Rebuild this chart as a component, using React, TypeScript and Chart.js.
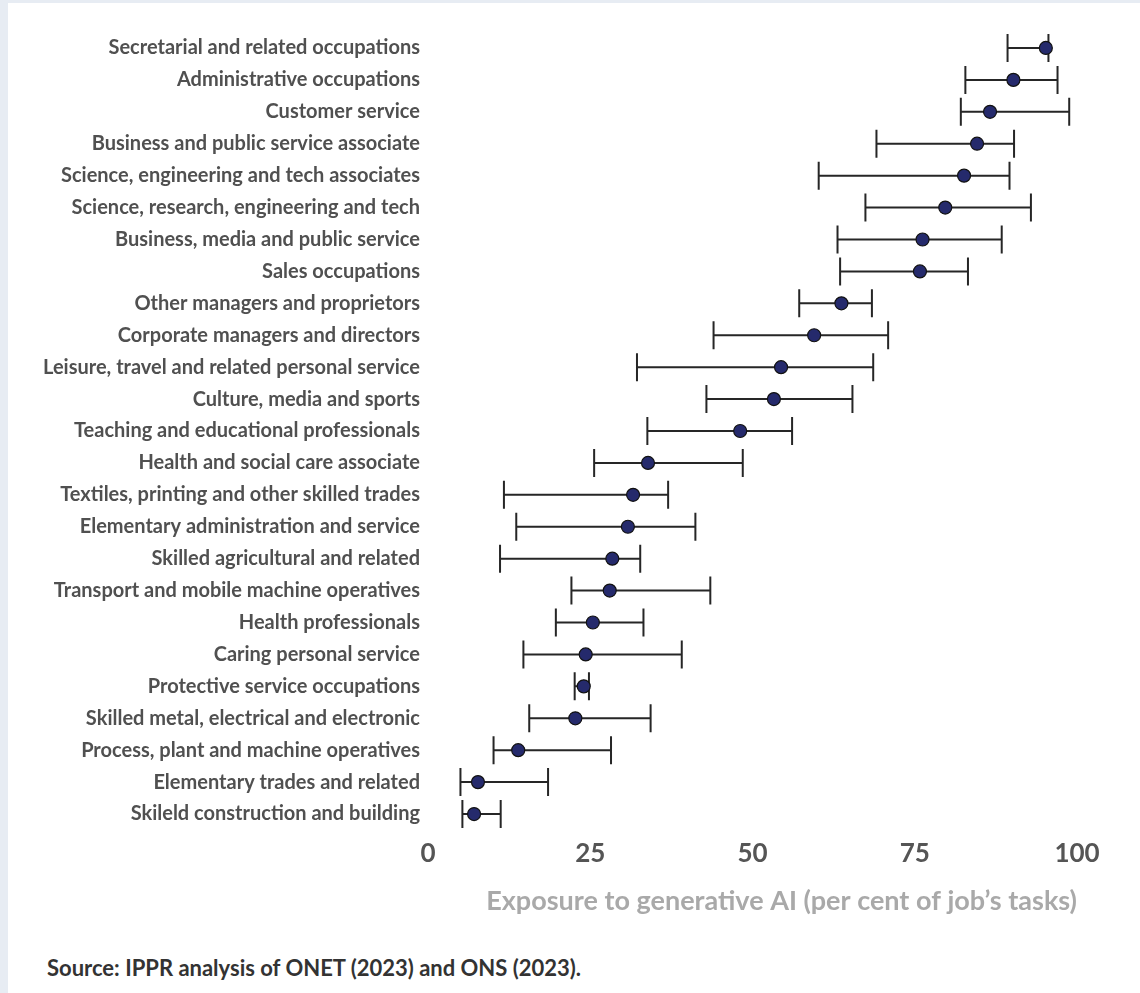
import React, { useEffect, useRef } from 'react';
import { Chart, registerables } from 'chart.js';

Chart.register(...registerables);

const categories = [
  'Secretarial and related occupations',
  'Administrative occupations',
  'Customer service',
  'Business and public service associate',
  'Science, engineering and tech associates',
  'Science, research, engineering and tech',
  'Business, media and public service',
  'Sales occupations',
  'Other managers and proprietors',
  'Corporate managers and directors',
  'Leisure, travel and related personal service',
  'Culture, media and sports',
  'Teaching and educational professionals',
  'Health and social care associate',
  'Textiles, printing and other skilled trades',
  'Elementary administration and service',
  'Skilled agricultural and related',
  'Transport and mobile machine operatives',
  'Health professionals',
  'Caring personal service',
  'Protective service occupations',
  'Skilled metal, electrical and electronic',
  'Process, plant and machine operatives',
  'Elementary trades and related',
  'Skileld construction and building',
];

const means = [95.2, 90.2, 86.6, 84.6, 82.6, 79.7, 76.2, 75.8, 63.7, 59.5, 54.4, 53.3, 48.1, 33.9, 31.6, 30.8, 28.4, 28.0, 25.4, 24.3, 24.0, 22.7, 13.9, 7.7, 7.1];
const lows = [89.3, 82.8, 82.1, 69.1, 60.2, 67.4, 63.1, 63.5, 57.2, 44.0, 32.2, 42.9, 33.8, 25.6, 11.7, 13.6, 11.1, 22.1, 19.7, 14.7, 22.6, 15.6, 10.1, 5.0, 5.3];
const highs = [95.6, 97.0, 98.8, 90.3, 89.6, 92.9, 88.4, 83.2, 68.4, 70.9, 68.6, 65.4, 56.1, 48.5, 37.0, 41.2, 32.7, 43.5, 33.2, 39.1, 24.8, 34.3, 28.2, 18.5, 11.2];

const xMin = 0;
const xMax = 100;
const xStep = 25;
const axisTitle = 'Exposure to generative AI (per cent of job\u2019s tasks)';
const sourceText = 'Source: IPPR analysis of ONET (2023) and ONS (2023).';

const FONT = "Lato, 'Open Sans', sans-serif";

const whiskerPlugin = {
  id: 'whiskers',
  beforeDatasetsDraw(chart: any) {
    const { ctx, scales } = chart;
    const x = scales.x;
    const y = scales.y;
    ctx.save();
    ctx.strokeStyle = '#262626';
    ctx.lineWidth = 2;
    ctx.lineCap = 'butt';
    for (let i = 0; i < categories.length; i++) {
      const yp = y.getPixelForValue(i);
      const x1 = x.getPixelForValue(lows[i]);
      const x2 = x.getPixelForValue(highs[i]);
      const half = 14;
      ctx.beginPath();
      ctx.moveTo(x1, yp);
      ctx.lineTo(x2, yp);
      ctx.moveTo(x1, yp - half);
      ctx.lineTo(x1, yp + half);
      ctx.moveTo(x2, yp - half);
      ctx.lineTo(x2, yp + half);
      ctx.stroke();
    }
    ctx.restore();
  },
};

export default function App() {
  const canvasRef = useRef<HTMLCanvasElement | null>(null);

  useEffect(() => {
    if (!canvasRef.current) return;
    const chart = new Chart(canvasRef.current, {
      type: 'scatter',
      data: {
        labels: categories,
        datasets: [
          {
            data: categories.map((c, i) => ({ x: means[i], y: c })),
            backgroundColor: '#252a6c',
            borderColor: '#121212',
            borderWidth: 1.2,
            pointRadius: 6.5,
            pointHoverRadius: 6.5,
          },
        ],
      },
      options: {
        responsive: false,
        animation: false,
        devicePixelRatio: 1,
        layout: { padding: { top: 29, right: 63, bottom: 0, left: 0 } },
        plugins: {
          legend: { display: false },
          tooltip: { enabled: false },
        },
        scales: {
          x: {
            type: 'linear',
            min: xMin,
            max: xMax,
            grid: { display: false },
            border: { display: false },
            ticks: {
              stepSize: xStep,
              padding: 0,
              color: '#555555',
              font: { family: FONT, size: 26, weight: 'bold' },
            },
            title: {
              display: true,
              text: axisTitle,
              align: 'end',
              color: '#a9a9a9',
              padding: { top: 0, bottom: 16 },
              font: { family: FONT, size: 27, weight: 'bold', lineHeight: 1.2 },
            },
            afterFit(scale: any) {
              scale.height = 103;
            },
          },
          y: {
            type: 'category',
            labels: categories,
            offset: true,
            grid: { display: false },
            border: { display: false },
            ticks: {
              autoSkip: false,
              padding: 0,
              color: '#505050',
              font: { family: FONT, size: 20, weight: 'bold' },
            },
            afterFit(scale: any) {
              scale.width = 420;
            },
          },
        },
      },
      plugins: [whiskerPlugin],
    } as any);
    return () => chart.destroy();
  }, []);

  return (
    <div style={{ position: 'fixed', left: 0, top: 0, width: 1140, height: 993, background: '#e7ecf3', overflow: 'hidden' }}>
      <div style={{ position: 'absolute', left: 8, top: 3, width: 1132, height: 990, background: '#ffffff' }}>
        <canvas ref={canvasRef} width={1132} height={930} style={{ position: 'absolute', left: 0, top: 0, width: 1132, height: 930 }} />
      </div>
      <div style={{ position: 'absolute', left: 47, top: 955, fontFamily: FONT, fontWeight: 700, fontSize: 22, lineHeight: '26px', color: '#333333', whiteSpace: 'nowrap' }}>
        {sourceText}
      </div>
    </div>
  );
}
